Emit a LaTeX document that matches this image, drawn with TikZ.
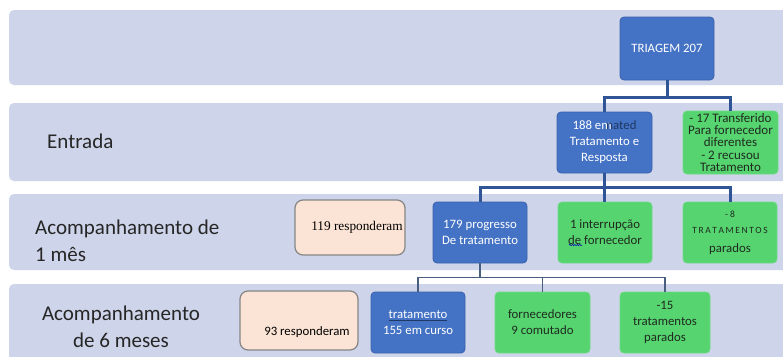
\documentclass[tikz,border=0pt]{standalone}
\usepackage{fontspec}
\setmainfont{Carlito}
\newfontfamily\serifx{Liberation Serif}
\usetikzlibrary{decorations.pathmorphing}
\definecolor{bandc}{HTML}{CED4E9}
\definecolor{bluef}{HTML}{4472C4}
\definecolor{blued}{HTML}{3A62AE}
\definecolor{greenf}{HTML}{56D470}
\definecolor{greend}{HTML}{6FDA85}
\definecolor{peach}{HTML}{FBE4D5}
\definecolor{grayb}{HTML}{858585}
\definecolor{conn}{HTML}{2F5597}
\definecolor{thinc}{HTML}{4A5F80}
\definecolor{darkt}{HTML}{1F2A1F}
\definecolor{navyt}{HTML}{1F3864}
\begin{document}
\begin{tikzpicture}[x=1pt,y=-1pt,
  band/.style={fill=bandc,draw=none,rounded corners=5pt},
  bbox/.style={fill=bluef,draw=blued,line width=0.8pt,rounded corners=4pt,text=white,align=center,font=\fontsize{12.8}{16}\selectfont,inner sep=0pt},
  gbox/.style={fill=greenf,draw=greend,line width=0.8pt,rounded corners=4pt,text=darkt,align=center,font=\fontsize{12.8}{16}\selectfont,inner sep=0pt},
  pbox/.style={fill=peach,draw=grayb,line width=1.2pt,rounded corners=8pt,text=black,align=center,inner sep=0pt},
  lbl/.style={font=\fontsize{21}{27}\selectfont,text=black!85,inner sep=0pt},
  thick conn/.style={draw=conn,line width=3pt},
  thin conn/.style={draw=thinc,line width=1.2pt},
  squiggle/.style={draw=blue!70!black,line width=0.5pt,decorate,decoration={snake,segment length=2.5pt,amplitude=0.7pt}}]
\useasboundingbox (0,0) rectangle (783,356);
\fill[white] (0,0) rectangle (783,356);
% bands
\path[band] (9,10) rectangle (790,85);
\path[band] (9,103) rectangle (790,181);
\path[band] (9,194) rectangle (790,270);
\path[band] (9,284) rectangle (790,366);
% row labels
\node[lbl,anchor=west] (lentrada) at (47,141) {Entrada};
\node[lbl,anchor=west,align=left] (lmes) at (35,241) {Acompanhamento de\\1 mês};
\node[lbl,align=center] (lseis) at (121,327) {Acompanhamento\\de 6 meses};
% boxes
\node[bbox,minimum width=94pt,minimum height=63pt] (tri) at (667,48.5) {TRIAGEM 207};
\node[bbox,minimum width=95pt,minimum height=61pt] (n188) at (604.5,142.5) {188 em\hspace*{-5pt}\textcolor{navyt}{nated}\\Tratamento e\\Resposta};
\node[gbox,minimum width=95pt,minimum height=63pt,font=\fontsize{13}{12.4}\selectfont] (n17) at (730.5,142.5) {- 17 Transferido\\Para fornecedor\\diferentes\\- 2 recusou\\Tratamento};
\node[pbox,minimum width=110pt,minimum height=55pt,font=\serifx\fontsize{13.3}{14}\selectfont] (n119) at (350,227.5) {\hspace*{14pt}119 responderam};
\node[bbox,minimum width=94pt,minimum height=61pt] (n179) at (480,232.5) {179 progresso\\De tratamento};
\node[gbox,minimum width=94pt,minimum height=61pt] (n1) at (605,232.5) {1 interrupção\\de fornecedor};
\node[gbox,minimum width=94pt,minimum height=61pt] (n8) at (730,232.5) {{\fontsize{9.5}{11}\selectfont - 8}\\{\fontsize{9.5}{11}\selectfont T\,R\,A\,T\,A\,M\,E\,N\,T\,O\,S}\\[3pt]parados};
\node[pbox,minimum width=118pt,minimum height=59pt] (n93) at (299,320.5) {};
\node[font=\fontsize{12.8}{14}\selectfont,inner sep=0pt] (t93) at ([shift={(8,12)}]n93.center) {93 responderam};
\node[bbox,minimum width=94pt,minimum height=61pt] (n155) at (418,322.5) {\textcolor{navyt}{\underline{\textcolor{white}{tratamento}}}\\155 em curso};
\node[gbox,minimum width=95pt,minimum height=61pt] (n9) at (542.5,322.5) {fornecedores\\9 comutado};
\node[gbox,minimum width=90pt,minimum height=61pt] (n15) at (665,322.5) {-15\\tratamentos\\parados};
% spell-check squiggle under "de"
\coordinate (sqa) at ([shift={(-36,12.5)}]n1.center);
\coordinate (sqb) at ([shift={(-23,12.5)}]n1.center);
\path[squiggle] (sqa) -- (sqb);
% connectors
\draw[thick conn] (tri.south) -- ++(0,17) -| (n188.north);
\draw[thick conn] (tri.south) ++(0,17) -| (n17.north);
\draw[thick conn] (n188.south) -- (n188.south |- n1.north);
\draw[thick conn] (n188.south) ++(0,14) -| (n179.north);
\draw[thick conn] (n188.south) ++(0,14) -| (n8.north);
\draw[thin conn] (n179.south) -- ++(0,14) -| (n155.north);
\draw[thin conn] (n179.south) ++(0,14) -| (n9.north);
\draw[thin conn] (n179.south) ++(0,14) -| (n15.north);
\end{tikzpicture}
\end{document}
